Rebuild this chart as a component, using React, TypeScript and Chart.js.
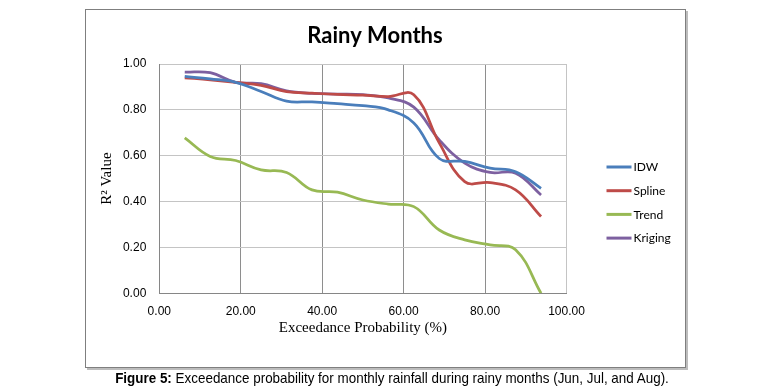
import React, { useEffect, useRef } from 'react';
import { Chart, registerables } from 'chart.js';

Chart.register(...registerables);

const titleText = 'Rainy Months';
const xTitle = 'Exceedance Probability (%)';
const yTitle = 'R\u00B2 Value';
const caption = 'Exceedance probability for monthly rainfall during rainy months (Jun, Jul, and Aug).';

const exceedance = [6.25, 12.5, 18.75, 25, 31.25, 37.5, 43.75, 50, 56.25, 62.5, 68.75, 75, 81.25, 87.5, 93.75];
const seriesNames = ['IDW', 'Spline', 'Trend', 'Kriging'];
const idw = [0.946, 0.935, 0.92, 0.88, 0.838, 0.835, 0.827, 0.818, 0.8, 0.743, 0.588, 0.575, 0.546, 0.53, 0.458];
const spline = [0.94, 0.931, 0.92, 0.907, 0.88, 0.873, 0.867, 0.864, 0.858, 0.866, 0.656, 0.487, 0.483, 0.451, 0.335];
const trend = [0.678, 0.597, 0.579, 0.538, 0.527, 0.451, 0.441, 0.407, 0.389, 0.378, 0.276, 0.233, 0.211, 0.19, 0.0];
const kriging = [0.965, 0.962, 0.92, 0.914, 0.883, 0.872, 0.869, 0.866, 0.852, 0.812, 0.669, 0.568, 0.527, 0.524, 0.429];
const seriesColors = ['#4a7ebb', '#be4b48', '#98b954', '#7d60a0'];

const sideLegend = {
  id: 'sideLegend',
  afterDraw(chart: any) {
    const { ctx, chartArea } = chart;
    const x0 = chartArea.right + 40;
    const y0 = chartArea.top + 103;
    chart.data.datasets.forEach((ds: any, i: number) => {
      const y = y0 + i * 23.7;
      ctx.save();
      ctx.strokeStyle = ds.borderColor;
      ctx.lineWidth = 3;
      ctx.beginPath();
      ctx.moveTo(x0, y);
      ctx.lineTo(x0 + 25, y);
      ctx.stroke();
      ctx.fillStyle = '#000';
      ctx.font = '12px Lato';
      ctx.textBaseline = 'middle';
      ctx.textAlign = 'left';
      ctx.fillText(ds.label, x0 + 27, y + 0.5);
      ctx.restore();
    });
  },
};

export default function App() {
  const ref = useRef<HTMLCanvasElement>(null);

  useEffect(() => {
    if (!ref.current) return;
    const values = [idw, spline, trend, kriging];
    const chart = new Chart(ref.current, {
      type: 'line',
      data: {
        datasets: values.map((vals, i) => ({
          label: seriesNames[i],
          data: exceedance.map((x, j) => ({ x, y: vals[j] })),
          borderColor: seriesColors[i],
          backgroundColor: seriesColors[i],
          borderWidth: 2.75,
          pointRadius: 0,
          tension: 0.4,
          fill: false,
          yAxisID: 'y',
        })),
      },
      options: {
        responsive: false,
        animation: false,
        devicePixelRatio: 1,
        layout: { padding: 0 },
        plugins: {
          legend: { display: false },
          tooltip: { enabled: false },
          title: {
            display: true,
            text: titleText,
            color: '#000',
            font: { family: 'Lato', size: 22, weight: 'bold' },
            padding: { top: 14, bottom: 14.6 },
          },
        },
        scales: {
          x: {
            type: 'linear',
            min: 0,
            max: 100,
            afterFit: (s: any) => {
              s.height = 73.7;
            },
            border: { color: '#868686', width: 1 },
            grid: {
              drawTicks: false,
              color: (c: any) => (c.tick && c.tick.value === 100 ? '#c4c4c4' : '#8e8e8e'),
            },
            ticks: {
              stepSize: 20,
              padding: 11,
              color: '#000',
              font: { family: 'Liberation Sans', size: 12 },
              callback: (v: any) => Number(v).toFixed(2),
            },
            title: {
              display: true,
              text: xTitle,
              color: '#000',
              font: { family: 'Liberation Serif', size: 15 },
              padding: { top: 2, bottom: 30 },
            },
          },
          y: {
            min: 0,
            max: 1,
            afterFit: (s: any) => {
              s.width = 94.3;
            },
            border: { color: '#868686', width: 1 },
            grid: { drawTicks: false, color: '#c4c4c4' },
            ticks: {
              stepSize: 0.2,
              padding: 13,
              color: '#000',
              font: { family: 'Liberation Sans', size: 12 },
              callback: (v: any) => Number(v).toFixed(2),
            },
            title: {
              display: true,
              text: yTitle,
              color: '#000',
              font: { family: 'Liberation Serif', size: 15 },
              padding: { top: 33, bottom: 4 },
            },
          },
          yRight: {
            position: 'right',
            min: 0,
            max: 1,
            afterFit: (s: any) => {
              s.width = 118.5;
            },
            border: { display: false },
            grid: { display: false, drawOnChartArea: false },
            ticks: { display: false },
          },
        },
      },
      plugins: [sideLegend],
    });
    return () => chart.destroy();
  }, []);

  return (
    <div style={{ position: 'absolute', left: 0, top: 0, width: 779, height: 390, background: '#fff', overflow: 'hidden' }}>
      <canvas
        ref={ref}
        width={620}
        height={358}
        style={{ position: 'absolute', left: 65, top: 9, width: 620, height: 358 }}
      />
      <div
        style={{
          position: 'absolute',
          left: 85,
          top: 9,
          width: 599,
          height: 357,
          border: '1px solid #7f7f7f',
          boxShadow: '2px 2px 0 #bdbdbd',
          pointerEvents: 'none',
        }}
      />
      <div
        style={{
          position: 'absolute',
          left: 0,
          top: 369,
          width: 784,
          textAlign: 'center',
          fontFamily: '"Liberation Sans", sans-serif',
          fontSize: 15,
          color: '#000',
          whiteSpace: 'nowrap',
          transform: 'scaleX(0.895)',
          transformOrigin: '392px 0',
        }}
      >
        <b>Figure 5:</b> {caption}
      </div>
    </div>
  );
}
